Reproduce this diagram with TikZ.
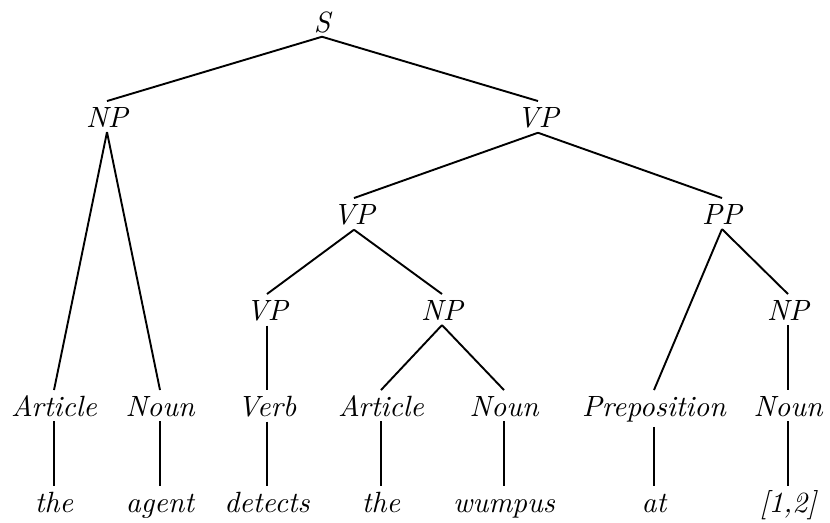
\documentclass[tikz,border=0pt]{standalone}
\begin{document}
\begin{tikzpicture}[x=0.3413pt,y=-0.3413pt,
  lbl/.style={inner sep=0pt,outer sep=0pt,anchor=base,font=\fontsize{10}{12}\selectfont\itshape},
  edge/.style={line width=0.65pt,line cap=butt}]
\useasboundingbox (0,0) rectangle (830,523);
% row 0
\node[lbl] (S) at (322,32) {S};
% row 1
\node[lbl] (np1) at (107,128) {NP};
\node[lbl] (vp1) at (538,128) {VP};
% row 2
\node[lbl] (vp2) at (354,225) {VP};
\node[lbl] (pp) at (722,225) {PP};
% row 3
\node[lbl] (vp3) at (267,321) {VP};
\node[lbl] (np2) at (442,321) {NP};
\node[lbl] (np3) at (788,321) {NP};
% row 4
\node[lbl] (art1) at (54,417) {Article};
\node[lbl] (noun1) at (160,417) {Noun};
\node[lbl] (verb) at (267,417) {Verb};
\node[lbl] (art2) at (381,417) {Article};
\node[lbl] (noun2) at (504,417) {Noun};
\node[lbl] (prep) at (654,417) {Preposition};
\node[lbl] (noun3) at (788,417) {Noun};
% row 5
\node[lbl] (w1) at (54,513) {the};
\node[lbl] (w2) at (160,513) {agent};
\node[lbl] (w3) at (267,513) {detects};
\node[lbl] (w4) at (381,513) {the};
\node[lbl] (w5) at (504,513) {wumpus};
\node[lbl] (w6) at (654,513) {at};
\node[lbl] (w7) at (788,513) {[1,2]};
% edges
\foreach \p/\c in {S/np1,S/vp1,np1/art1,np1/noun1,vp1/vp2,vp1/pp,vp2/vp3,vp2/np2,
  pp/prep,pp/np3,vp3/verb,np2/art2,np2/noun2,np3/noun3,
  art1/w1,noun1/w2,verb/w3,art2/w4,noun2/w5,prep/w6,noun3/w7}
  \draw[edge] ([yshift=-1.4pt]\p.south) -- ([yshift=9.2pt]\c.base);
\end{tikzpicture}
\end{document}
